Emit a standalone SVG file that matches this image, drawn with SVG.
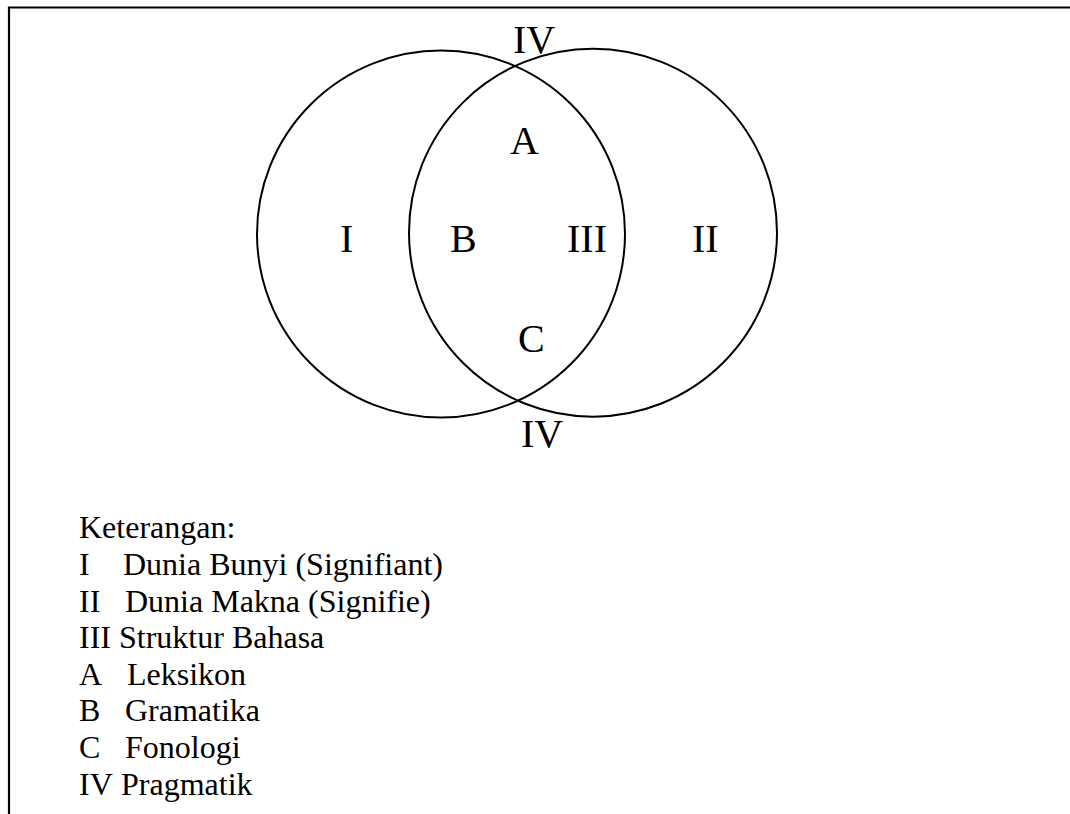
<svg xmlns="http://www.w3.org/2000/svg" width="1070" height="814" viewBox="0 0 1070 814">
<style>
.frame{stroke:#000;stroke-width:2.2;fill:none}
.circ{stroke:#000;stroke-width:2;fill:none}
.lbl{font-family:"Liberation Serif","Times New Roman",serif;font-size:40px;fill:#000}
.leg{font-family:"Liberation Serif","Times New Roman",serif;font-size:32px;fill:#000}
</style>
<rect width="1070" height="814" fill="#fff"/>
<g id="frame">
<path class="frame" d="M9,814 V7.5 H1070"/>
</g>
<g id="circle-left">
<ellipse class="circ" cx="441" cy="234" rx="184" ry="183.5"/>
</g>
<g id="circle-right">
<ellipse class="circ" cx="593" cy="232.7" rx="184" ry="184"/>
</g>
<g id="labels">
<text class="lbl" x="513" y="53">IV</text>
<text class="lbl" x="510" y="154">A</text>
<text class="lbl" x="340" y="252">I</text>
<text class="lbl" x="450" y="252">B</text>
<text class="lbl" x="567" y="252">III</text>
<text class="lbl" x="692" y="252">II</text>
<text class="lbl" x="518" y="352">C</text>
<text class="lbl" x="521" y="447">IV</text>
</g>
<g id="legend">
<text class="leg" x="79" y="538">Keterangan:</text>
<text class="leg" y="575"><tspan x="79">I</tspan><tspan x="123">Dunia Bunyi (Signifiant)</tspan></text>
<text class="leg" y="611.5"><tspan x="79">II</tspan><tspan x="125">Dunia Makna (Signifie)</tspan></text>
<text class="leg" y="648"><tspan x="79">III</tspan><tspan x="119">Struktur Bahasa</tspan></text>
<text class="leg" y="685"><tspan x="79">A</tspan><tspan x="127">Leksikon</tspan></text>
<text class="leg" y="721"><tspan x="79">B</tspan><tspan x="125">Gramatika</tspan></text>
<text class="leg" y="758"><tspan x="79">C</tspan><tspan x="125">Fonologi</tspan></text>
<text class="leg" y="795"><tspan x="79">IV</tspan><tspan x="121">Pragmatik</tspan></text>
</g>
</svg>
